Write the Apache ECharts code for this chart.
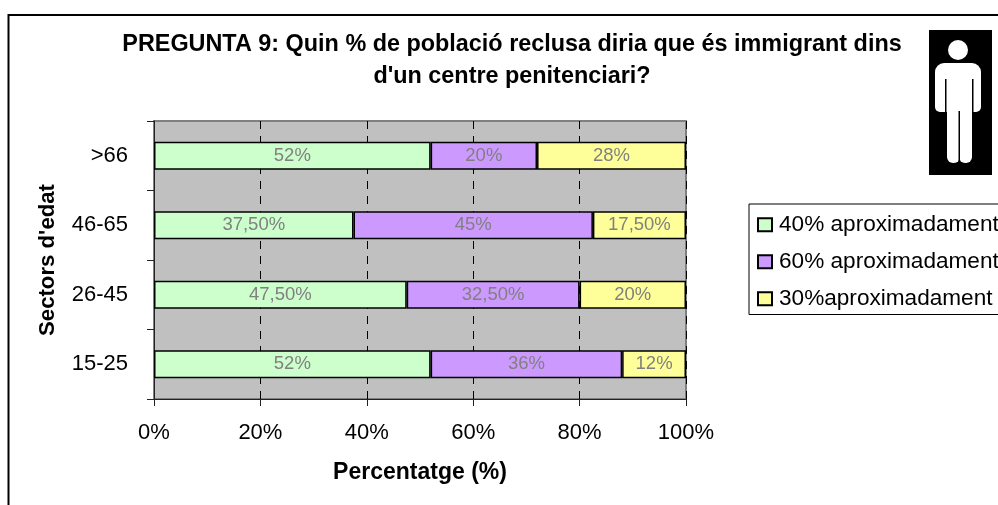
<!DOCTYPE html>
<html><head><meta charset="utf-8">
<style>html,body{margin:0;padding:0;background:#fff}#c{width:998px;height:505px}</style>
<script src="https://cdn.jsdelivr.net/npm/echarts@6/dist/echarts.min.js"></script>
</head><body><div id="c"></div>
<script>
const categories = ['15-25', '26-45', '46-65', '>66'];
const seriesNames = ['40% aproximadament', '60% aproximadament', '30%aproximadament'];
const values40 = [52, 47.5, 37.5, 52];
const values60 = [36, 32.5, 45, 20];
const values30 = [12, 20, 17.5, 28];
const titleLines = "PREGUNTA 9: Quin % de població reclusa diria que és immigrant dins\nd'un centre penitenciari?";
const FONT = '"Liberation Sans", Arial, sans-serif';
const colors = ['#ccffcc', '#cc99ff', '#ffff99'];
const fmt = p => {
  const v = p.value;
  return (Number.isInteger(v) ? String(v) : v.toFixed(2).replace('.', ',')) + '%';
};
const mk = (name, data, color) => ({
  name, type: 'bar', stack: 's', data, barWidth: 28,
  itemStyle: { color, borderColor: '#000', borderWidth: 1.5 },
  label: { show: true, position: 'inside', color: '#808080', fontFamily: FONT, fontSize: 18.5, formatter: fmt }
});
const chart = echarts.init(document.getElementById('c'), null, { renderer: 'canvas' });
chart.setOption({
  animation: false,
  backgroundColor: '#fff',
  title: {
    text: titleLines, left: 507, top: 24, textAlign: 'center',
    textStyle: { fontFamily: FONT, fontSize: 23.4, fontWeight: 'bold', color: '#000', lineHeight: 32 }
  },
  grid: { left: 154, top: 121, width: 532, height: 278, show: true, backgroundColor: '#c0c0c0', borderColor: '#808080', borderWidth: 2 },
  legend: {
    orient: 'vertical', left: 749, top: 204, padding: [9, 10, 4, 8], itemGap: 13.5,
    itemWidth: 14, itemHeight: 13, icon: 'rect', borderColor: '#000', borderWidth: 1,
    data: seriesNames,
    textStyle: { fontFamily: FONT, fontSize: 22.6, color: '#000', padding: [0, 0, 0, 2], lineHeight: 23.5 }
  },
  xAxis: {
    type: 'value', min: 0, max: 100, interval: 20,
    name: 'Percentatge (%)', nameLocation: 'middle', nameGap: 62,
    nameTextStyle: { fontFamily: FONT, fontSize: 23, fontWeight: 'bold', color: '#000' },
    axisLine: { show: true, lineStyle: { color: '#222', width: 1 } },
    axisTick: { show: true, length: 7, lineStyle: { color: '#222' } },
    axisLabel: { fontFamily: FONT, fontSize: 22, color: '#000', margin: 23, formatter: '{value}%' },
    splitLine: { show: true, lineStyle: { color: '#000', type: [8, 7], width: 1 } }
  },
  yAxis: {
    type: 'category', data: categories,
    name: "Sectors d'edat", nameLocation: 'middle', nameGap: 95, nameRotate: 90,
    nameTextStyle: { fontFamily: FONT, fontSize: 22.2, fontWeight: 'bold', color: '#000' },
    axisLine: { show: true, lineStyle: { color: '#222', width: 1 } },
    axisTick: { show: true, length: 7, alignWithLabel: false, lineStyle: { color: '#222' } },
    axisLabel: { fontFamily: FONT, fontSize: 22, color: '#000', margin: 26 }
  },
  series: [mk(seriesNames[0], values40, colors[0]), mk(seriesNames[1], values60, colors[1]), mk(seriesNames[2], values30, colors[2])],
  graphic: [
    { type: 'rect', silent: true, z: 0, shape: { x: 8.5, y: 15, width: 1100, height: 600 }, style: { fill: 'none', stroke: '#000', lineWidth: 2 } },
    { type: 'rect', z: 10, shape: { x: 929, y: 30, width: 63, height: 145 }, style: { fill: '#000' } },
    { type: 'circle', z: 11, shape: { cx: 958, cy: 50, r: 10 }, style: { fill: '#fff' } },
    { type: 'rect', z: 11, shape: { x: 935, y: 63, width: 46, height: 49, r: [9, 9, 5, 5] }, style: { fill: '#fff' } },
    { type: 'rect', z: 11, shape: { x: 947, y: 100, width: 13, height: 63, r: [0, 0, 6, 6] }, style: { fill: '#fff' } },
    { type: 'rect', z: 11, shape: { x: 959, y: 100, width: 13, height: 63, r: [0, 0, 6, 6] }, style: { fill: '#fff' } },
    { type: 'rect', z: 12, shape: { x: 945, y: 79, width: 1.5, height: 36 }, style: { fill: '#000' } },
    { type: 'rect', z: 12, shape: { x: 972, y: 79, width: 1.5, height: 36 }, style: { fill: '#000' } },
    { type: 'rect', z: 12, shape: { x: 958.5, y: 111, width: 1.5, height: 52 }, style: { fill: '#000' } }
  ]
});
</script></body></html>
